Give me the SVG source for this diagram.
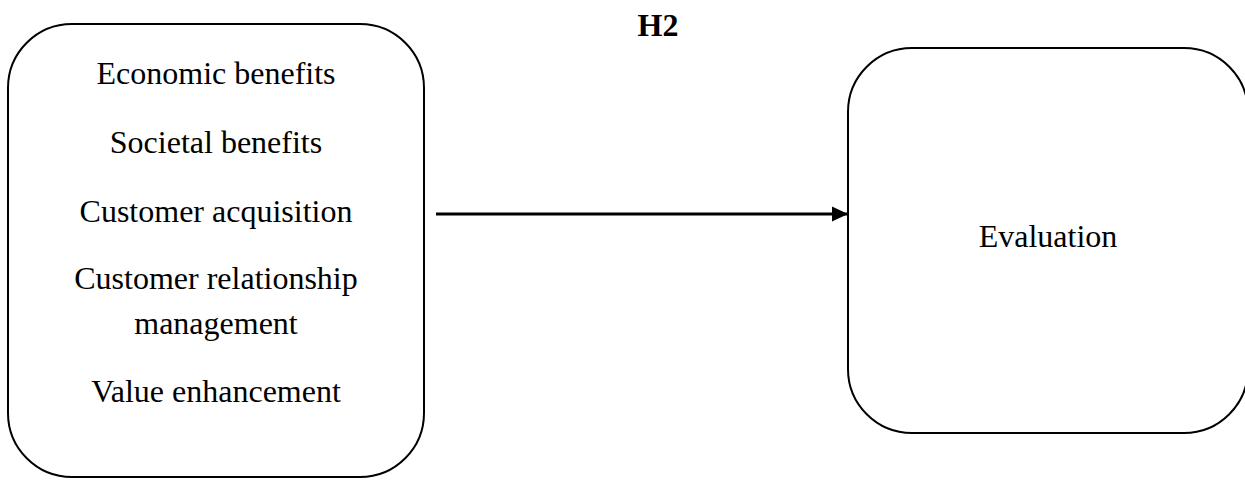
<svg xmlns="http://www.w3.org/2000/svg" width="1245" height="483" viewBox="0 0 1245 483">
<defs>
<style>
.box{fill:#fff;stroke:#000;stroke-width:2}
.t{font-family:"Liberation Serif","Times New Roman",serif;font-size:32px;fill:#000;text-anchor:middle}
.b{font-weight:bold}
.conn{stroke:#000;stroke-width:3;fill:none}
</style>
<marker id="arr" markerUnits="userSpaceOnUse" markerWidth="17" markerHeight="17" refX="16" refY="8" orient="auto">
<path d="M0,0.5 L16,8 L0,15.5 Z" fill="#000"/>
</marker>
</defs>
<rect width="1245" height="483" fill="#fff"/>
<g id="label-h2"><text class="t b" x="658" y="36">H2</text></g>
<g id="node-benefits">
<rect class="box" x="8" y="24" width="416" height="453" rx="64" ry="64"/>
<text class="t" x="216" y="84">Economic benefits</text>
<text class="t" x="216" y="153">Societal benefits</text>
<text class="t" x="216" y="222">Customer acquisition</text>
<text class="t" x="216" y="289">Customer relationship</text>
<text class="t" x="216" y="334">management</text>
<text class="t" x="216" y="402">Value enhancement</text>
</g>
<g id="node-evaluation">
<rect class="box" x="848" y="48" width="400" height="385" rx="64" ry="64"/>
<text class="t" x="1048" y="247">Evaluation</text>
</g>
<g id="connectors">
<line class="conn" x1="436" y1="214" x2="848" y2="214" marker-end="url(#arr)"/>
</g>
</svg>
